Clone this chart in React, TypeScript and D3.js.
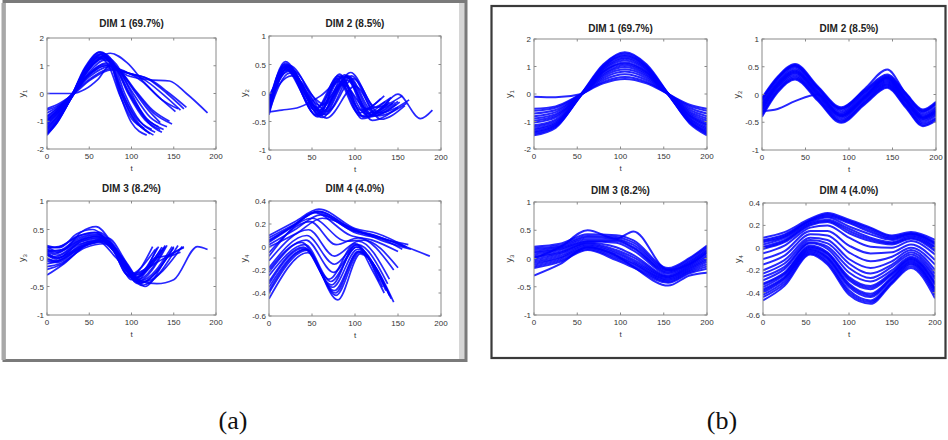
import React from "react";
import * as d3 from "d3";

type Pair = [number, number];

const X_TICKS = [0, 50, 100, 150, 200];
const Y_TICKS_DIM1 = [-2, -1, 0, 1, 2];
const Y_TICKS_DIM23 = [-1, -0.5, 0, 0.5, 1];
const Y_TICKS_DIM4 = [-0.6, -0.4, -0.2, 0, 0.2, 0.4];
const TITLES = ["DIM 1 (69.7%)", "DIM 2 (8.5%)", "DIM 3 (8.2%)", "DIM 4 (4.0%)"];
const PANEL_LABELS = ["(a)", "(b)"];

// ---------- (a) unaligned trajectories: [t, y] keypoints ----------
const A1: Pair[][] = [
  [[0, -1.45], [12, -1.0], [27, -0.25], [45, 0.9], [63, 1.5], [75, 1.2], [88, 0.0], [105, -1.0], [122, -1.45]],
  [[0, -1.35], [12, -0.95], [27, -0.2], [45, 0.85], [62, 1.42], [74, 1.15], [87, 0.05], [103, -0.95], [118, -1.35]],
  [[0, -1.25], [12, -0.85], [28, -0.2], [46, 0.8], [64, 1.35], [76, 1.05], [90, -0.05], [108, -1.05], [126, -1.5]],
  [[0, -1.2], [13, -0.8], [27, -0.15], [47, 0.85], [66, 1.45], [78, 1.15], [92, 0.0], [110, -1.0], [128, -1.4]],
  [[0, -1.5], [12, -1.05], [26, -0.3], [44, 0.8], [61, 1.3], [73, 1.0], [86, -0.05], [100, -0.9], [115, -1.25]],
  [[0, -1.1], [13, -0.7], [27, -0.2], [47, 0.75], [67, 1.3], [80, 1.05], [98, 0.0], [118, -0.9], [138, -1.3]],
  [[0, -1.0], [13, -0.65], [28, -0.15], [48, 0.7], [68, 1.2], [82, 0.95], [102, 0.0], [122, -0.85], [142, -1.2]],
  [[0, -0.95], [13, -0.6], [27, -0.1], [48, 0.65], [70, 1.1], [84, 0.9], [104, 0.05], [120, -0.6], [134, -1.05]],
  [[0, -1.3], [12, -0.9], [27, -0.25], [46, 0.75], [66, 1.25], [80, 1.0], [97, 0.0], [115, -0.85], [132, -1.2]],
  [[0, -0.85], [14, -0.5], [28, -0.1], [48, 0.6], [70, 1.0], [85, 0.85], [105, 0.1], [125, -0.6], [145, -1.0]],
  [[0, -0.7], [14, -0.45], [28, -0.1], [50, 0.6], [72, 0.95], [95, 0.75], [115, 0.5], [138, -0.05], [158, -0.6]],
  [[0, -0.6], [15, -0.4], [29, -0.05], [52, 0.55], [75, 0.9], [98, 0.72], [118, 0.55], [142, 0.0], [162, -0.55]],
  [[0, -0.8], [14, -0.5], [28, -0.15], [49, 0.65], [70, 1.0], [92, 0.8], [112, 0.45], [133, -0.15], [152, -0.65]],
  [[0, -0.55], [15, -0.35], [30, -0.05], [52, 0.5], [76, 0.85], [100, 0.7], [122, 0.5], [145, 0.0], [165, -0.5]],
  [[0, 0.0], [30, 0.0], [45, 0.15], [60, 0.5], [76, 1.05], [95, 0.65], [120, 0.5], [145, 0.45], [165, 0.0], [190, -0.7]],
  [[0, -1.0], [13, -0.6], [28, -0.2], [50, 0.9], [75, 1.45], [95, 1.1], [115, 0.4], [135, -0.2], [155, -0.55]],
  [[0, -1.4], [12, -1.0], [27, -0.25], [46, 0.95], [64, 1.4], [77, 1.1], [90, 0.0], [104, -0.8], [124, -1.3]],
  [[0, -1.15], [13, -0.75], [27, -0.2], [47, 0.8], [68, 1.35], [82, 1.05], [100, 0.0], [120, -1.05], [136, -1.4]],
  [[0, -1.05], [13, -0.7], [27, -0.18], [47, 0.8], [66, 1.28], [80, 1.0], [96, 0.0], [116, -0.95], [134, -1.3]],
  [[0, -0.9], [14, -0.55], [28, -0.12], [48, 0.65], [69, 1.05], [84, 0.88], [104, 0.1], [126, -0.7], [148, -1.1]],
  [[0, -1.45], [12, -1.05], [26, -0.3], [45, 0.95], [62, 1.48], [74, 1.2], [86, 0.0], [100, -1.05], [118, -1.5]],
];

const A2: Pair[][] = [
  [[0, -0.25], [18, 0.5], [55, -0.38], [80, 0.3], [106, -0.4], [135, -0.15]],
  [[0, -0.15], [17, 0.45], [54, -0.3], [79, 0.25], [104, -0.35], [130, -0.1]],
  [[0, -0.35], [19, 0.52], [57, -0.42], [82, 0.33], [108, -0.45], [138, -0.2]],
  [[0, -0.1], [20, 0.4], [56, -0.25], [81, 0.2], [107, -0.3], [134, -0.05]],
  [[0, -0.3], [21, 0.5], [60, -0.4], [88, 0.32], [116, -0.42], [148, -0.2]],
  [[0, -0.2], [22, 0.45], [61, -0.35], [90, 0.28], [118, -0.38], [146, -0.15]],
  [[0, -0.38], [21, 0.42], [62, -0.43], [91, 0.22], [120, -0.48], [150, -0.25]],
  [[0, -0.05], [23, 0.38], [60, -0.22], [86, 0.15], [114, -0.28], [142, -0.08]],
  [[0, -0.28], [24, 0.48], [66, -0.38], [96, 0.3], [126, -0.4], [160, -0.18]],
  [[0, -0.18], [25, 0.42], [68, -0.32], [98, 0.25], [128, -0.35], [163, -0.12]],
  [[0, -0.33], [24, 0.35], [67, -0.44], [100, 0.12], [130, -0.46], [158, -0.22]],
  [[0, -0.12], [26, 0.3], [65, -0.2], [95, 0.36], [124, -0.25], [155, -0.05]],
  [[0, -0.22], [19, 0.55], [58, -0.36], [84, 0.28], [110, -0.42], [140, -0.12]],
  [[0, -0.3], [20, 0.47], [59, -0.3], [86, 0.2], [112, -0.36], [144, -0.18]],
  [[0, -0.26], [18, 0.48], [56, -0.4], [83, 0.3], [110, -0.42], [140, -0.16]],
  [[0, -0.17], [21, 0.47], [62, -0.38], [92, 0.28], [121, -0.4], [152, -0.16]],
  [[0, -0.33], [15, -0.3], [35, -0.25], [60, -0.05], [90, 0.3], [118, -0.38], [150, -0.15]],
  [[0, -0.22], [22, 0.44], [62, -0.33], [92, 0.3], [122, -0.35], [150, -0.02], [176, -0.45], [190, -0.3]],
];

const A3: Pair[][] = [
  [[0, 0.2], [12, 0.12], [38, 0.36], [60, 0.42], [82, 0.1], [100, -0.38], [132, 0.2]],
  [[0, 0.15], [10, 0.08], [40, 0.32], [62, 0.38], [84, 0.05], [104, -0.35], [138, 0.18]],
  [[0, 0.1], [10, 0.02], [40, 0.28], [64, 0.35], [86, 0.0], [106, -0.42], [142, 0.22]],
  [[0, 0.05], [12, 0.0], [38, 0.24], [60, 0.3], [82, 0.0], [102, -0.3], [135, 0.15]],
  [[0, 0.0], [10, -0.05], [42, 0.25], [66, 0.33], [88, 0.02], [110, -0.4], [148, 0.2]],
  [[0, -0.05], [12, -0.08], [42, 0.2], [66, 0.28], [88, -0.05], [108, -0.45], [150, 0.18]],
  [[0, -0.1], [14, -0.05], [45, 0.22], [70, 0.3], [92, -0.05], [112, -0.48], [155, 0.22]],
  [[0, -0.15], [15, -0.1], [45, 0.18], [68, 0.25], [92, -0.08], [114, -0.42], [160, 0.2]],
  [[0, 0.18], [14, 0.2], [36, 0.38], [56, 0.45], [78, 0.15], [96, -0.3], [128, 0.15]],
  [[0, 0.22], [15, 0.18], [35, 0.42], [54, 0.5], [76, 0.2], [98, -0.33], [125, 0.2]],
  [[0, -0.2], [16, -0.12], [48, 0.25], [72, 0.35], [95, -0.1], [116, -0.5], [145, 0.05], [162, 0.18]],
  [[0, 0.12], [13, 0.05], [38, 0.3], [60, 0.38], [80, 0.1], [100, -0.28], [140, 0.0], [158, 0.1]],
  [[0, -0.3], [20, -0.1], [44, 0.2], [64, 0.3], [86, 0.0], [106, -0.35], [130, 0.18]],
  [[0, 0.08], [12, 0.0], [42, 0.22], [66, 0.3], [90, -0.05], [112, -0.42], [130, -0.45], [150, -0.38], [178, 0.2], [190, 0.15]],
  [[0, 0.12], [20, 0.15], [40, 0.45], [58, 0.55], [80, 0.2], [105, -0.3], [140, 0.22]],
  [[0, 0.2], [10, 0.18], [40, 0.4], [62, 0.45], [85, 0.05], [108, -0.38], [128, 0.0], [145, 0.05], [162, 0.2]],
  [[0, 0.06], [11, -0.02], [41, 0.3], [63, 0.36], [86, 0.02], [107, -0.38], [140, 0.2]],
  [[0, 0.16], [12, 0.1], [39, 0.34], [61, 0.4], [83, 0.08], [102, -0.36], [136, 0.19]],
  [[0, -0.02], [11, -0.06], [43, 0.23], [67, 0.31], [89, -0.02], [110, -0.44], [150, 0.2]],
];

const A4: Pair[][] = [
  [[0, 0.1], [30, 0.22], [58, 0.33], [100, 0.16], [125, 0.12], [160, 0.0]],
  [[0, 0.06], [28, 0.18], [55, 0.3], [98, 0.14], [122, 0.1], [155, -0.02]],
  [[0, 0.02], [30, 0.15], [60, 0.28], [102, 0.12], [126, 0.08], [162, 0.02]],
  [[0, 0.04], [26, 0.17], [52, 0.3], [95, 0.1], [120, 0.06], [150, -0.04]],
  [[0, 0.0], [32, 0.12], [62, 0.25], [104, 0.14], [130, 0.06], [165, -0.02]],
  [[0, 0.08], [30, 0.2], [56, 0.31], [100, 0.14], [130, 0.08], [160, 0.0], [187, -0.08]],
  [[0, 0.05], [29, 0.19], [57, 0.31], [99, 0.15], [124, 0.1], [158, 0.0]],
  [[0, -0.05], [48, 0.22], [78, 0.02], [104, 0.08], [145, -0.2]],
  [[0, -0.12], [46, 0.15], [76, -0.08], [104, 0.05], [140, -0.28]],
  [[0, -0.18], [44, 0.1], [76, -0.15], [103, 0.02], [138, -0.32]],
  [[0, -0.08], [50, 0.25], [90, 0.05], [110, 0.06], [150, -0.18]],
  [[0, -0.22], [43, 0.06], [75, -0.22], [102, 0.0], [135, -0.35]],
  [[0, -0.25], [42, 0.02], [72, -0.3], [102, 0.0], [132, -0.35]],
  [[0, -0.3], [40, 0.0], [74, -0.35], [103, -0.02], [136, -0.38]],
  [[0, -0.35], [42, -0.02], [76, -0.38], [104, -0.04], [140, -0.42]],
  [[0, -0.38], [43, -0.02], [77, -0.4], [104, -0.04], [141, -0.43]],
  [[0, -0.4], [44, -0.03], [78, -0.42], [105, -0.05], [142, -0.45]],
  [[0, -0.45], [45, -0.05], [80, -0.46], [106, -0.06], [145, -0.48]],
  [[0, -0.2], [38, 0.04], [70, -0.28], [100, 0.03], [128, -0.3]],
  [[0, -0.32], [40, -0.01], [73, -0.33], [101, 0.02], [120, -0.2], [134, -0.4]],
];

// ---------- (b) aligned trajectories: shared t grid ----------
const B1_T = [0, 25, 55, 80, 105, 130, 155, 180, 200];
const B1_Y = [
  [-1.5, -1.23, 0.02, 1.07, 1.52, 1.08, 0.02, -1.07, -1.5],
  [-1.45, -1.19, -0.02, 1.04, 1.47, 1.04, -0.01, -1.04, -1.45],
  [-1.4, -1.15, 0.01, 1.0, 1.42, 1.0, 0.0, -1.0, -1.4],
  [-1.36, -1.12, -0.03, 0.98, 1.38, 0.98, 0.02, -0.98, -1.36],
  [-1.31, -1.08, 0.0, 0.94, 1.33, 0.94, -0.02, -0.94, -1.31],
  [-1.26, -1.04, 0.02, 0.9, 1.28, 0.9, 0.01, -0.9, -1.26],
  [-1.2, -0.99, -0.01, 0.86, 1.22, 0.86, 0.0, -0.86, -1.2],
  [-1.14, -0.93, 0.0, 0.81, 1.15, 0.81, 0.02, -0.81, -1.14],
  [-1.04, -0.85, 0.02, 0.74, 1.05, 0.74, -0.01, -0.74, -1.04],
  [-0.97, -0.79, -0.02, 0.69, 0.98, 0.69, 0.0, -0.69, -0.97],
  [-0.89, -0.73, 0.0, 0.64, 0.9, 0.64, 0.01, -0.64, -0.89],
  [-0.81, -0.66, 0.01, 0.58, 0.82, 0.58, 0.0, -0.58, -0.81],
  [-0.71, -0.58, -0.01, 0.51, 0.72, 0.51, 0.0, -0.51, -0.71],
  [-0.61, -0.5, 0.0, 0.44, 0.62, 0.44, 0.0, -0.44, -0.61],
  [-0.54, -0.45, 0.0, 0.39, 0.55, 0.39, 0.0, -0.39, -0.54],
  [-0.1, -0.12, 0.0, 0.8, 1.1, 0.78, 0.0, -0.78, -1.1],
];

const B2_T = [0, 18, 38, 64, 91, 118, 144, 165, 185, 200];
const B2_Y = [
  [-0.06, 0.32, 0.55, 0.15, -0.23, 0.08, 0.36, 0.03, -0.27, -0.13],
  [-0.09, 0.3, 0.53, 0.13, -0.25, 0.06, 0.34, 0.01, -0.29, -0.16],
  [-0.11, 0.28, 0.51, 0.11, -0.27, 0.04, 0.32, -0.01, -0.32, -0.18],
  [-0.15, 0.25, 0.48, 0.09, -0.3, 0.02, 0.3, -0.04, -0.35, -0.22],
  [-0.18, 0.22, 0.45, 0.06, -0.33, -0.01, 0.28, -0.06, -0.38, -0.25],
  [-0.2, 0.2, 0.43, 0.04, -0.35, -0.03, 0.26, -0.08, -0.4, -0.27],
  [-0.23, 0.18, 0.41, 0.02, -0.37, -0.05, 0.24, -0.1, -0.42, -0.3],
  [-0.26, 0.16, 0.39, 0.0, -0.39, -0.07, 0.22, -0.12, -0.44, -0.33],
  [-0.28, 0.14, 0.37, -0.02, -0.41, -0.09, 0.2, -0.14, -0.46, -0.35],
  [-0.31, 0.11, 0.34, -0.05, -0.44, -0.12, 0.18, -0.17, -0.49, -0.38],
  [-0.35, 0.08, 0.31, -0.07, -0.47, -0.14, 0.16, -0.19, -0.52, -0.42],
  [-0.37, 0.06, 0.29, -0.09, -0.49, -0.16, 0.14, -0.21, -0.55, -0.44],
  [-0.4, 0.04, 0.27, -0.11, -0.51, -0.18, 0.12, -0.23, -0.57, -0.47],
  [-0.08, 0.3, 0.52, 0.12, -0.25, 0.1, 0.45, 0.02, -0.3, -0.15],
  [-0.3, -0.26, -0.12, 0.0, -0.38, -0.05, 0.3, -0.1, -0.42, -0.3],
];

const B3_T = [0, 30, 62, 95, 115, 155, 180, 200];
const B3_Y = [
  [0.21, 0.26, 0.43, 0.41, 0.32, -0.17, 0.01, 0.23],
  [0.18, 0.23, 0.4, 0.38, 0.28, -0.19, -0.01, 0.21],
  [0.15, 0.21, 0.37, 0.35, 0.24, -0.21, -0.04, 0.18],
  [0.12, 0.19, 0.34, 0.33, 0.2, -0.23, -0.06, 0.15],
  [0.1, 0.17, 0.31, 0.31, 0.18, -0.25, -0.08, 0.13],
  [0.07, 0.15, 0.3, 0.28, 0.14, -0.27, -0.1, 0.1],
  [0.04, 0.12, 0.28, 0.2, 0.06, -0.3, -0.12, 0.06],
  [0.02, 0.1, 0.27, 0.15, 0.02, -0.32, -0.14, 0.03],
  [-0.02, 0.08, 0.25, 0.12, -0.02, -0.33, -0.16, 0.0],
  [-0.05, 0.05, 0.23, 0.09, -0.05, -0.35, -0.18, -0.03],
  [-0.08, 0.02, 0.21, 0.06, -0.08, -0.37, -0.2, -0.06],
  [-0.11, 0.0, 0.19, 0.03, -0.1, -0.39, -0.22, -0.1],
  [-0.14, -0.03, 0.17, 0.0, -0.13, -0.41, -0.24, -0.14],
  [-0.17, -0.06, 0.15, -0.03, -0.16, -0.43, -0.26, -0.18],
  [0.0, 0.2, 0.5, 0.35, 0.48, -0.2, -0.1, 0.1],
  [-0.3, -0.1, 0.2, 0.05, -0.15, -0.48, -0.3, -0.25],
];

const B4_T = [0, 25, 55, 75, 100, 125, 150, 172, 200];
const B4_Y = [
  [0.09, 0.14, 0.26, 0.31, 0.25, 0.18, 0.11, 0.14, 0.07],
  [0.07, 0.12, 0.25, 0.3, 0.24, 0.17, 0.1, 0.13, 0.05],
  [0.06, 0.11, 0.245, 0.29, 0.23, 0.155, 0.09, 0.125, 0.04],
  [0.05, 0.1, 0.24, 0.28, 0.22, 0.14, 0.08, 0.12, 0.03],
  [0.03, 0.09, 0.23, 0.27, 0.19, 0.12, 0.07, 0.11, 0.01],
  [0.01, 0.07, 0.22, 0.25, 0.17, 0.09, 0.05, 0.1, 0.0],
  [0.0, 0.06, 0.21, 0.24, 0.15, 0.075, 0.04, 0.09, -0.015],
  [-0.01, 0.05, 0.2, 0.23, 0.13, 0.06, 0.03, 0.08, -0.03],
  [-0.05, 0.02, 0.18, 0.2, 0.09, 0.01, 0.0, 0.06, -0.06],
  [-0.1, -0.03, 0.15, 0.15, 0.02, -0.05, -0.04, 0.03, -0.11],
  [-0.15, -0.07, 0.12, 0.11, -0.04, -0.12, -0.08, 0.0, -0.15],
  [-0.2, -0.11, 0.09, 0.07, -0.1, -0.18, -0.12, -0.02, -0.2],
  [-0.23, -0.14, 0.07, 0.04, -0.14, -0.23, -0.15, -0.04, -0.23],
  [-0.26, -0.17, 0.05, 0.01, -0.18, -0.27, -0.17, -0.06, -0.26],
  [-0.29, -0.19, 0.04, -0.01, -0.22, -0.3, -0.2, -0.08, -0.28],
  [-0.32, -0.22, 0.02, -0.04, -0.26, -0.34, -0.22, -0.09, -0.31],
  [-0.33, -0.23, 0.01, -0.05, -0.275, -0.355, -0.23, -0.1, -0.32],
  [-0.35, -0.24, 0.0, -0.06, -0.29, -0.37, -0.24, -0.11, -0.33],
  [-0.37, -0.26, -0.01, -0.08, -0.32, -0.41, -0.26, -0.12, -0.36],
  [-0.385, -0.27, -0.02, -0.09, -0.335, -0.425, -0.27, -0.13, -0.37],
  [-0.4, -0.28, -0.03, -0.1, -0.35, -0.44, -0.28, -0.14, -0.38],
  [-0.42, -0.3, -0.04, -0.12, -0.38, -0.47, -0.3, -0.15, -0.4],
  [-0.44, -0.32, -0.05, -0.135, -0.4, -0.485, -0.31, -0.165, -0.42],
  [-0.47, -0.34, -0.06, -0.15, -0.42, -0.5, -0.32, -0.18, -0.45],
];

const zipGrid = (t: number[], rows: number[][]): Pair[][] =>
  rows.map((row) => row.map((y, i) => [t[i], y] as Pair));

const FONT = "'Liberation Sans', Arial, sans-serif";

type SubProps = {
  id: string;
  box: [number, number, number, number];
  yDomain: [number, number];
  yTicks: number[];
  title: string;
  dim: number;
  curves: Pair[][];
  width: number;
  titleGap: number;
};

function Subplot({ id, box, yDomain, yTicks, title, dim, curves, width, titleGap }: SubProps) {
  const [x0, y0, x1, y1] = box;
  const xs = d3.scaleLinear().domain([0, 200]).range([x0, x1]);
  const ys = d3.scaleLinear().domain(yDomain).range([y1, y0]);
  const line = d3
    .line<Pair>()
    .x((d) => xs(d[0]))
    .y((d) => ys(d[1]))
    .curve(d3.curveMonotoneX);
  const clipId = `clip-${id}`;
  const midY = (y0 + y1) / 2;
  return (
    <g>
      <defs>
        <clipPath id={clipId}>
          <rect x={x0} y={y0} width={x1 - x0} height={y1 - y0} />
        </clipPath>
      </defs>
      <rect x={x0} y={y0} width={x1 - x0} height={y1 - y0} fill="#fff" />
      <g clipPath={`url(#${clipId})`}>
        {curves.map((c, i) => (
          <path
            key={i}
            d={line(c) || ""}
            fill="none"
            stroke="#0000ff"
            strokeWidth={width}
            strokeOpacity={0.85}
            strokeLinejoin="round"
          />
        ))}
      </g>
      <rect x={x0} y={y0} width={x1 - x0} height={y1 - y0} fill="none" stroke="#8a8a8a" strokeWidth={1} />
      {X_TICKS.map((v) => (
        <g key={`x${v}`}>
          <line x1={xs(v)} x2={xs(v)} y1={y1} y2={y1 - 2.5} stroke="#8a8a8a" />
          <line x1={xs(v)} x2={xs(v)} y1={y0} y2={y0 + 2.5} stroke="#8a8a8a" />
          <text x={xs(v)} y={y1 + 10} textAnchor="middle" fontSize={8} fontFamily={FONT} fill="#333">
            {String(v)}
          </text>
        </g>
      ))}
      {yTicks.map((v) => (
        <g key={`y${v}`}>
          <line x1={x0} x2={x0 + 2.5} y1={ys(v)} y2={ys(v)} stroke="#8a8a8a" />
          <line x1={x1} x2={x1 - 2.5} y1={ys(v)} y2={ys(v)} stroke="#8a8a8a" />
          <text x={x0 - 3} y={ys(v) + 3} textAnchor="end" fontSize={8} fontFamily={FONT} fill="#333">
            {String(v)}
          </text>
        </g>
      ))}
      <text x={(x0 + x1) / 2} y={y0 - titleGap} textAnchor="middle" fontSize={10} fontWeight="bold" fontFamily={FONT} fill="#222">
        {title}
      </text>
      <text x={(x0 + x1) / 2} y={y1 + 22} textAnchor="middle" fontSize={8} fontFamily={FONT} fill="#333">
        t
      </text>
      <text
        transform={`translate(${x0 - 22},${midY}) rotate(-90)`}
        textAnchor="middle"
        fontSize={9}
        fontFamily={FONT}
        fill="#333"
      >
        y
        <tspan fontSize={6} dy={2}>
          {String(dim)}
        </tspan>
      </text>
    </g>
  );
}

export default function App() {
  const panels = [
    {
      key: "a",
      width: 1.7,
      subs: [
        { box: [47, 38, 216, 149], yDomain: [-2, 2], yTicks: Y_TICKS_DIM1, curves: A1, gap: 11 },
        { box: [269, 36, 441, 150], yDomain: [-1, 1], yTicks: Y_TICKS_DIM23, curves: A2, gap: 9 },
        { box: [47, 201, 216, 315], yDomain: [-1, 1], yTicks: Y_TICKS_DIM23, curves: A3, gap: 9 },
        { box: [269, 201, 441, 316], yDomain: [-0.6, 0.4], yTicks: Y_TICKS_DIM4, curves: A4, gap: 9 },
      ],
    },
    {
      key: "b",
      width: 2.0,
      subs: [
        { box: [534, 39, 707, 149], yDomain: [-2, 2], yTicks: Y_TICKS_DIM1, curves: zipGrid(B1_T, B1_Y), gap: 7 },
        { box: [762, 39, 936, 150], yDomain: [-1, 1], yTicks: Y_TICKS_DIM23, curves: zipGrid(B2_T, B2_Y), gap: 7 },
        { box: [534, 202, 707, 315], yDomain: [-1, 1], yTicks: Y_TICKS_DIM23, curves: zipGrid(B3_T, B3_Y), gap: 8 },
        { box: [763, 203, 935, 315], yDomain: [-0.6, 0.4], yTicks: Y_TICKS_DIM4, curves: zipGrid(B4_T, B4_Y), gap: 9 },
      ],
    },
  ];
  return (
    <svg
      width={948}
      height={440}
      viewBox="0 0 948 440"
      style={{ position: "absolute", left: 0, top: 0, background: "#fff" }}
    >
      <rect x={0} y={0} width={948} height={440} fill="#fff" />
      {/* panel (a) frame */}
      <rect x={459} y={3} width={7} height={356} fill="#d6d6d6" />
      <rect x={4} y={1.5} width={462} height={359} fill="none" stroke="#7a7a7a" strokeWidth={3} />
      <line x1={3.5} y1={3} x2={3.5} y2={360} stroke="#a8a8a8" strokeWidth={4} />
      {/* panel (b) frame */}
      <rect x={491.5} y={6} width={454} height={352} fill="none" stroke="#3a3a3a" strokeWidth={2.2} />
      {panels.map((p) =>
        p.subs.map((s, i) => (
          <Subplot
            key={`${p.key}${i}`}
            id={`${p.key}${i}`}
            box={s.box as [number, number, number, number]}
            yDomain={s.yDomain as [number, number]}
            yTicks={s.yTicks}
            title={TITLES[i]}
            dim={i + 1}
            curves={s.curves}
            width={p.width}
            titleGap={s.gap}
          />
        ))
      )}
      <text x={233} y={429} textAnchor="middle" fontSize={26} fontFamily="'Liberation Serif', 'DejaVu Serif', serif" fill="#111">
        {PANEL_LABELS[0]}
      </text>
      <text x={722} y={429} textAnchor="middle" fontSize={26} fontFamily="'Liberation Serif', 'DejaVu Serif', serif" fill="#111">
        {PANEL_LABELS[1]}
      </text>
    </svg>
  );
}
